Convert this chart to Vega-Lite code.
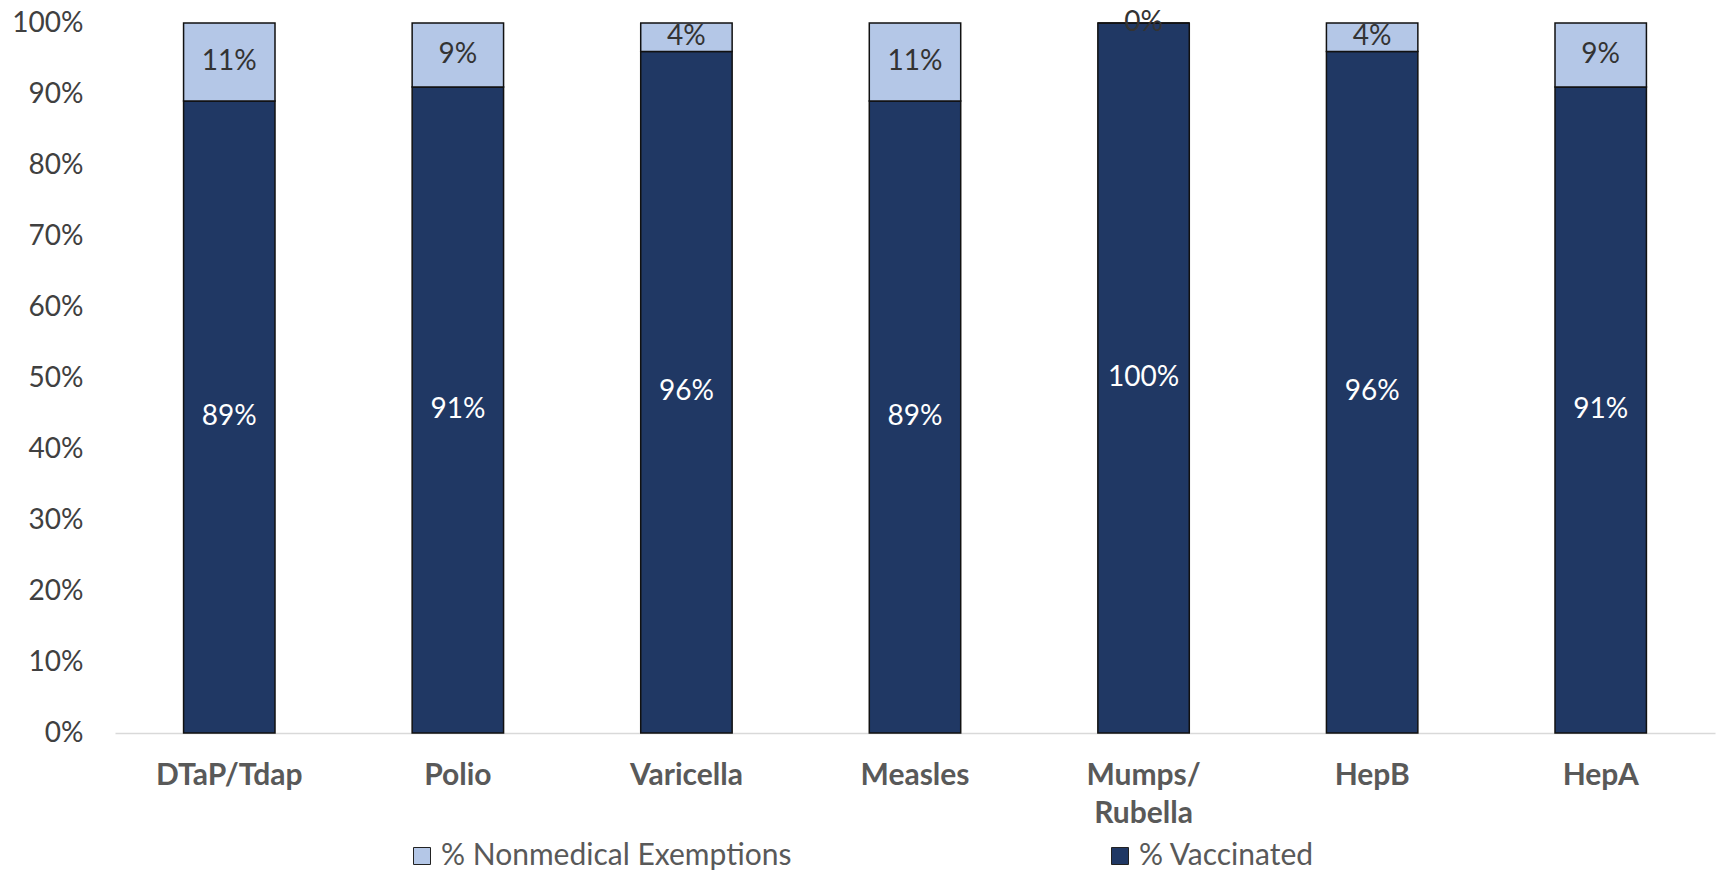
{
  "$schema": "https://vega.github.io/schema/vega-lite/v6.json",
  "width": 1600,
  "height": 710,
  "autosize": {"type": "none"},
  "padding": {"left": 115, "top": 23, "right": 11, "bottom": 137},
  "background": "white",
  "config": {"view": {"stroke": null}, "font": "Lato"},
  "data": {
    "values": [
      {"vaccine": "DTaP/Tdap", "series": "% Vaccinated", "pct": 0.89},
      {"vaccine": "DTaP/Tdap", "series": "% Nonmedical Exemptions", "pct": 0.11},
      {"vaccine": "Polio", "series": "% Vaccinated", "pct": 0.91},
      {"vaccine": "Polio", "series": "% Nonmedical Exemptions", "pct": 0.09},
      {"vaccine": "Varicella", "series": "% Vaccinated", "pct": 0.96},
      {"vaccine": "Varicella", "series": "% Nonmedical Exemptions", "pct": 0.04},
      {"vaccine": "Measles", "series": "% Vaccinated", "pct": 0.89},
      {"vaccine": "Measles", "series": "% Nonmedical Exemptions", "pct": 0.11},
      {"vaccine": "Mumps/Rubella", "series": "% Vaccinated", "pct": 1.0},
      {"vaccine": "Mumps/Rubella", "series": "% Nonmedical Exemptions", "pct": 0.0},
      {"vaccine": "HepB", "series": "% Vaccinated", "pct": 0.96},
      {"vaccine": "HepB", "series": "% Nonmedical Exemptions", "pct": 0.04},
      {"vaccine": "HepA", "series": "% Vaccinated", "pct": 0.91},
      {"vaccine": "HepA", "series": "% Nonmedical Exemptions", "pct": 0.09}
    ]
  },
  "encoding": {
    "x": {
      "field": "vaccine",
      "type": "nominal",
      "sort": null,
      "scale": {"paddingInner": 0.6, "paddingOuter": 0.3},
      "axis": {
        "title": null,
        "labelAngle": 0,
        "labelFont": "Lato",
        "labelFontSize": 30,
        "labelFontWeight": "bold",
        "labelColor": "#595959",
        "labelPadding": 27,
        "labelLineHeight": 38,
        "labelExpr": "datum.label == 'Mumps/Rubella' ? ['Mumps/', 'Rubella'] : datum.label",
        "ticks": false,
        "domainColor": "#D9D9D9",
        "domainWidth": 1.5
      }
    }
  },
  "layer": [
    {
      "mark": {"type": "bar", "stroke": "#111111", "strokeWidth": 1.5},
      "encoding": {
        "y": {
          "field": "pct",
          "type": "quantitative",
          "stack": "zero",
          "scale": {"domain": [0, 1]},
          "axis": {
            "title": null,
            "values": [0, 0.1, 0.2, 0.3, 0.4, 0.5, 0.6, 0.7, 0.8, 0.9, 1.0],
            "format": ".0%",
            "grid": false,
            "domain": false,
            "ticks": false,
            "labelFont": "Lato",
            "labelFontSize": 28,
            "labelColor": "#404040",
            "labelPadding": 32
          }
        },
        "color": {
          "field": "series",
          "type": "nominal",
          "scale": {
            "domain": ["% Nonmedical Exemptions", "% Vaccinated"],
            "range": ["#B4C7E7", "#203864"]
          },
          "legend": {
            "title": null,
            "orient": "none",
            "direction": "horizontal",
            "legendX": 292,
            "legendY": 818,
            "columnPadding": 313,
            "symbolType": "square",
            "symbolSize": 289,
            "symbolStrokeColor": "#222222",
            "symbolStrokeWidth": 1,
            "labelFont": "Lato",
            "labelFontSize": 30,
            "labelColor": "#595959",
            "labelOffset": 4,
            "labelLimit": 600
          }
        },
        "order": {"field": "series", "sort": "descending"}
      }
    },
    {
      "mark": {"type": "text", "font": "Lato", "fontSize": 28, "baseline": "middle"},
      "encoding": {
        "y": {"field": "pct", "type": "quantitative", "stack": "zero", "bandPosition": 0.5},
        "detail": {"field": "series"},
        "order": {"field": "series", "sort": "descending"},
        "text": {"field": "pct", "type": "quantitative", "format": ".0%"},
        "color": {
          "condition": {"test": "datum.series === '% Vaccinated'", "value": "#FFFFFF"},
          "value": "#333333"
        }
      }
    }
  ]
}
